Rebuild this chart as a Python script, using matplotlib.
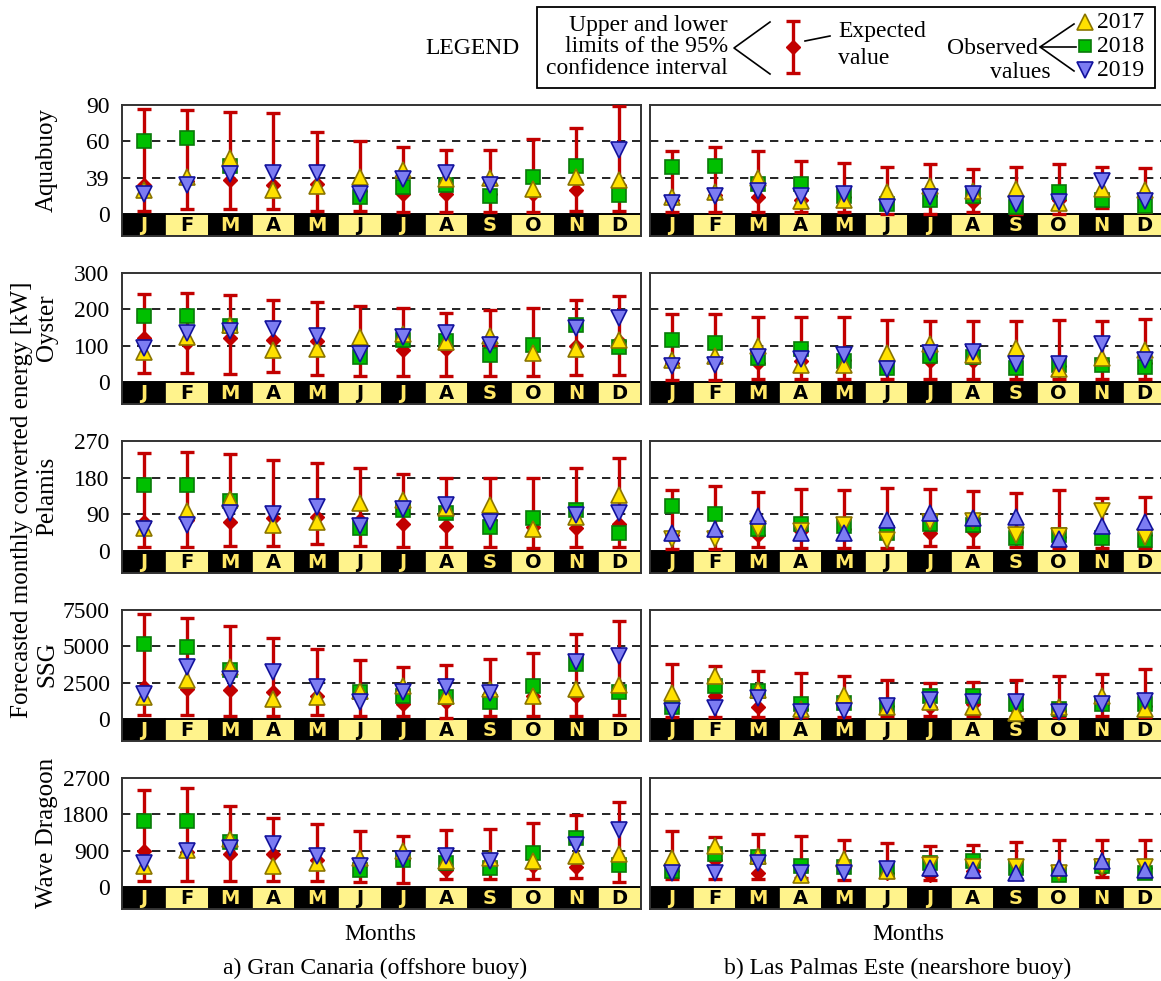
import numpy as np
import matplotlib.pyplot as plt
from matplotlib.patches import Rectangle

nan = np.nan
months = ['J', 'F', 'M', 'A', 'M', 'J', 'J', 'A', 'S', 'O', 'N', 'D']
devices = ['Aquabuoy', 'Oyster', 'Pelamis', 'SSG', 'Wave Dragoon']
y_max = [90, 300, 270, 7500, 2700]
tick_labels = [['0', '39', '60', '90'],
               ['0', '100', '200', '300'],
               ['0', '90', '180', '270'],
               ['0', '2500', '5000', '7500'],
               ['0', '900', '1800', '2700']]

# rows: lower 95% limit, expected value, upper 95% limit, observed 2017, 2018, 2019
# a) Gran Canaria (offshore buoy)
aquabuoy_gc = np.array([
    [3, 4, 4, 4, 3, 3, 2, 2, 2, 2, 3, 3],
    [24, 27, 28, 24, 25, 19, 17, 17, 17, 17, 20, 24],
    [87, 86, 84, 83, 68, 60, 55, 53, 53, 62, 71, 89],
    [20, 31, 46, 20, 23, 31, 36, 29, 30, 21, 31, 28],
    [60, 63, 40, nan, nan, 14, 22, 24, 15, 31, 40, 16],
    [17, 24, 33, 34, 34, 17, 29, 34, 24, nan, nan, 53]])
oyster_gc = np.array([
    [26, 26, 23, 27, 21, 18, 16, 18, 18, 16, 21, 21],
    [120, 108, 120, 115, 112, 94, 88, 91, 100, 90, 100, 112],
    [242, 245, 240, 227, 220, 210, 204, 190, 199, 204, 225, 238],
    [82, 124, 158, 88, 90, 124, 131, 110, 128, 79, 91, 117],
    [183, 183, 155, nan, nan, 70, 117, 112, 76, 101, 158, 97],
    [94, 135, 140, 146, 128, 78, 124, 134, 103, nan, 149, 177]])
pelamis_gc = np.array([
    [10, 10, 12, 12, 16, 12, 10, 10, 10, 7, 10, 10],
    [71, 75, 70, 81, 84, 76, 67, 61, 75, 60, 57, 67],
    [240, 244, 237, 223, 215, 204, 188, 180, 180, 180, 203, 229],
    [57, 98, 127, 65, 70, 119, 125, 106, 114, 53, 84, 137],
    [162, 163, 122, nan, nan, 57, 100, 94, 59, 81, 100, 45],
    [53, 65, 94, 92, 108, 62, 102, 114, 70, nan, 88, 94]])
ssg_gc = np.array([
    [277, 280, 185, 230, 280, 185, 185, 46, 185, 185, 230, 280],
    [2190, 2080, 2030, 1850, 1615, 1850, 1040, 1150, 1615, 1615, 1615, 1960],
    [7200, 6920, 6420, 5610, 4850, 4040, 3580, 3690, 4150, 4570, 5840, 6760],
    [1550, 2720, 3580, 1380, 1550, 1920, 2310, 1615, 2080, 1615, 2080, 2350],
    [5150, 4960, 3350, nan, nan, 1850, 1615, 1550, 1150, 2260, 3810, 1850],
    [1730, 3580, 2770, 3230, 2240, 1200, 1890, 2240, 1780, nan, 3920, 4320]])
wave_gc = np.array([
    [148, 148, 148, 148, 148, 123, 107, 205, 190, 190, 230, 123],
    [890, 860, 820, 810, 680, 520, 680, 420, 600, 520, 500, 680],
    [2410, 2450, 2000, 1710, 1550, 1380, 1260, 1410, 1440, 1590, 1790, 2100],
    [520, 930, 1190, 535, 600, 720, 890, 640, 720, 640, 765, 810],
    [1630, 1630, 1110, nan, nan, 435, 670, 600, 480, 850, 1220, 560],
    [600, 890, 970, 1080, 780, 520, 700, 780, 640, nan, 1050, 1420]])

# b) Las Palmas Este (nearshore buoy)
aquabuoy_lpe = np.array([
    [1.5, 1.5, 1.5, 2, 2, 0.5, 0.5, 1.5, 0.5, 0.5, 5, 2],
    [12, 16, 14, 12, 14, 11, 15, 10, 14, 12, 17, 14],
    [52, 55, 52, 44, 42, 39, 41, 37, 39, 41, 39, 38],
    [14, 18, 30, 11, 12, 18, 23, 19, 21, 9, 21, 20],
    [39, 40, 25, 25, 15, 8, 12, 15, 6, 18, 12, 7],
    [9, 15, 19, 15, 17, 6, 14, 17, 8, 10, 27, 11]])
oyster_lpe = np.array([
    [7, 7, 9, 9, 9, 9, 9, 9, 9, 9, 9, 9],
    [53, 62, 53, 58, 62, 60, 58, 58, 67, 44, 58, 53],
    [188, 188, 179, 179, 179, 170, 167, 169, 167, 170, 167, 174],
    [62, 71, 99, 46, 46, 81, 104, 74, 94, 35, 67, 88],
    [117, 108, 67, 91, 58, 39, 71, 70, 39, 48, 46, 42],
    [44, 48, 70, 64, 76, 35, 79, 83, 50, 50, 106, 62]])
pelamis_lpe = np.array([
    [6, 6, 10, 7, 7, 7, 12, 10, 10, 7, 7, 7],
    [39, 47, 39, 48, 55, 55, 43, 48, 47, 34, 43, 39],
    [149, 159, 145, 153, 149, 155, 153, 147, 143, 149, 130, 133],
    [30, 30, 55, 48, 65, 26, 71, 73, 39, 37, 98, 34],
    [111, 92, 55, 67, 61, 43, 67, 63, 32, 39, 32, 26],
    [45, 55, 86, 43, 43, 77, 94, 81, 84, 30, 62, 70]])
ssg_lpe = np.array([
    [115, 115, 115, 115, 115, 185, 185, 185, 115, 115, 185, 115],
    [920, 1615, 810, 690, 1150, 920, 810, 1040, 690, 580, 1040, 920],
    [3810, 3650, 3280, 3180, 2950, 2720, 2490, 2580, 2720, 3000, 3120, 3460],
    [1800, 3000, 2030, 690, 1660, 810, 1200, 810, 415, 810, 1615, 690],
    [810, 2260, 1960, 1040, 1110, 920, 1570, 1615, 1040, 690, 1040, 1040],
    [580, 740, 1430, 460, 580, 920, 1340, 1150, 1150, 460, 1040, 1270]])
wave_lpe = np.array([
    [205, 205, 205, 230, 170, 255, 170, 255, 205, 205, 255, 255],
    [395, 680, 355, 435, 480, 355, 310, 395, 395, 355, 435, 480],
    [1380, 1240, 1325, 1275, 1160, 1095, 1010, 1050, 1110, 1175, 1160, 1160],
    [720, 1030, 780, 310, 700, 395, 560, 500, 500, 355, 500, 500],
    [395, 810, 750, 535, 500, 435, 600, 640, 480, 310, 535, 355],
    [340, 355, 600, 355, 355, 450, 480, 435, 355, 480, 640, 435]])

gc_data = [aquabuoy_gc, oyster_gc, pelamis_gc, ssg_gc, wave_gc]
lpe_data = [aquabuoy_lpe, oyster_lpe, pelamis_lpe, ssg_lpe, wave_lpe]
# the original swaps the triangle shapes of 2017/2019 in some nearshore panels
lpe_swap_from = [None, None, 0, None, 6]

plt.rcParams['font.family'] = ['Liberation Serif', 'DejaVu Serif']

W, H = 1161, 981
fig = plt.figure(figsize=(W / 100, H / 100), dpi=100)

YEL, YEL_E = '#ffe100', '#8a7400'
GRN, GRN_E = '#00bf00', '#0a7a0a'
BLU, BLU_E = '#7c7cf2', '#12129c'
RED = '#c20000'
BAND_Y = '#fff38c'
BAND_FRAC = 0.2

row_px = [(105, 236), (273, 404), (441, 573), (610, 741), (778, 909)]
col_px = [(122, 519), (650, 516)]


def draw_panel(ax, data, ymax, labels, swap_from=None, left=True):
    x = np.arange(12)
    band = ymax * BAND_FRAC
    ax.set_xlim(-0.5, 11.5)
    ax.set_ylim(-band, ymax)
    ax.set_xticks([])
    ax.set_yticks(np.linspace(0, ymax, 4))
    if left:
        ax.set_yticklabels(labels, fontsize=17)
    else:
        ax.set_yticklabels([])
    ax.tick_params(axis='y', length=0, pad=9)
    for sp in ax.spines.values():
        sp.set_color('#333333')
        sp.set_linewidth(1.4)

    # month band
    for i, m in enumerate(months):
        face, tc = ('black', '#ffe766') if i % 2 == 0 else (BAND_Y, 'black')
        ax.add_patch(Rectangle((i - 0.5, -band), 1, band, facecolor=face,
                               edgecolor='black', lw=1.2, zorder=1))
        ax.text(i, -band * 0.5, m, ha='center', va='center', color=tc,
                fontsize=14, fontweight='heavy', family='DejaVu Sans', zorder=2)
    ax.axhline(0, color='black', lw=1.2, zorder=2)

    for t in (ymax / 3, 2 * ymax / 3):
        ax.axhline(t, color='black', lw=1.2, ls=(0, (5, 4)), zorder=1)

    lower, expected, upper = data[0], data[1], data[2]
    ax.errorbar(x, expected, yerr=[expected - lower, upper - expected],
                fmt='D', color=RED, ms=7, elinewidth=2.4, capsize=5,
                capthick=2.4, zorder=3)

    m17 = np.array(['^'] * 12, dtype=object)
    m19 = np.array(['v'] * 12, dtype=object)
    if swap_from is not None:
        m17[swap_from:] = 'v'
        m19[swap_from:] = '^'

    ax.plot(x, data[4], 's', color=GRN, mec=GRN_E, ms=10, mew=1.2, zorder=4)
    for i in range(12):
        ax.plot(x[i], data[3][i], m17[i], color=YEL, mec=YEL_E, ms=12,
                mew=1.2, zorder=5)
    for i in range(12):
        ax.plot(x[i], data[5][i], m19[i], color=BLU, mec=BLU_E, ms=12,
                mew=1.2, zorder=6)


for r, dev in enumerate(devices):
    top, bot = row_px[r]
    for c, (x0, w) in enumerate(col_px):
        ax = fig.add_axes([x0 / W, 1 - bot / H, w / W, (bot - top) / H])
        if c == 0:
            draw_panel(ax, gc_data[r], y_max[r], tick_labels[r], None, True)
        else:
            draw_panel(ax, lpe_data[r], y_max[r], tick_labels[r],
                       lpe_swap_from[r], False)
    zero = bot - (bot - top) * BAND_FRAC / (1 + BAND_FRAC)
    fig.text(47 / W, 1 - (top + zero) / 2 / H, dev, rotation=90,
             ha='center', va='center', fontsize=18)

fig.text(22 / W, 1 - 500 / H, 'Forecasted monthly converted energy [kW]',
         rotation=90, ha='center', va='center', fontsize=18)

fig.text(380 / W, 1 - 935 / H, 'Months', ha='center', va='center', fontsize=17)
fig.text(908 / W, 1 - 935 / H, 'Months', ha='center', va='center', fontsize=17)
fig.text(375 / W, 1 - 968 / H, 'a) Gran Canaria (offshore buoy)',
         ha='center', va='center', fontsize=17)
fig.text(898 / W, 1 - 968 / H, 'b) Las Palmas Este (nearshore buoy)',
         ha='center', va='center', fontsize=17)

# legend drawn in pixel coordinates
lg = fig.add_axes([0, 0, 1, 1], zorder=10)
lg.set_xlim(0, W)
lg.set_ylim(H, 0)
lg.axis('off')
lg.add_patch(Rectangle((537, 7), 618, 81, facecolor='white',
                       edgecolor='black', lw=1.3))
lg.text(472, 48, 'LEGEND', ha='center', va='center', fontsize=17)
lg.text(728, 47, 'Upper and lower\nlimits of the 95%\nconfidence interval',
        ha='right', va='center', fontsize=17, linespacing=1.0)
lg.plot([770, 734, 770], [22, 48, 74], color='black', lw=1.2)
lg.errorbar([793], [47], yerr=[[26], [26]], fmt='D', color=RED, ms=7,
            elinewidth=2.4, capsize=5, capthick=2.4)
lg.plot([805, 830], [41, 36], color='black', lw=1.2)
lg.text(838, 32, 'Expected', ha='left', va='center', fontsize=17)
lg.text(838, 58, 'value', ha='left', va='center', fontsize=17)
lg.text(1038, 48, 'Observed', ha='right', va='center', fontsize=17)
lg.text(1020, 73, 'values', ha='center', va='center', fontsize=17)
lg.plot([1074, 1040, 1076], [24, 47, 47], color='black', lw=1.2)
lg.plot([1040, 1074], [47, 71], color='black', lw=1.2)
lg.plot([1085], [22], '^', color=YEL, mec=YEL_E, ms=11, mew=1.2)
lg.plot([1085], [46], 's', color=GRN, mec=GRN_E, ms=9, mew=1.2)
lg.plot([1085], [70], 'v', color=BLU, mec=BLU_E, ms=11, mew=1.2)
for yy, yr in zip([22, 46, 70], ['2017', '2018', '2019']):
    lg.text(1097, yy, yr, ha='left', va='center', fontsize=17)

fig.savefig('out.png', dpi=100)
